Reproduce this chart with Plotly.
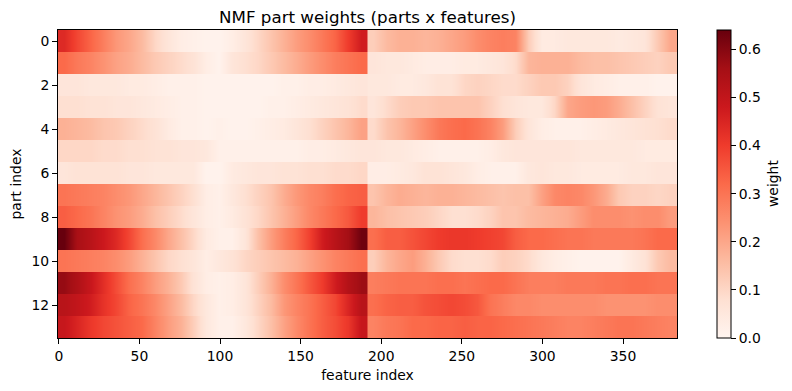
import plotly.graph_objects as go

title_text = "NMF part weights (parts x features)"
x_title = "feature index"
y_title = "part index"
colorbar_title = "weight"
x_ticks = [0, 50, 100, 150, 200, 250, 300, 350]
y_ticks = [0, 2, 4, 6, 8, 10, 12]
color_ticks = [0.0, 0.1, 0.2, 0.3, 0.4, 0.5, 0.6]
left_features = [i * 8 + 3.5 for i in range(24)]
right_features = [i * 8 + 195.5 for i in range(24)]

part_0 = [.44,.38,.33,.28,.23,.20,.16,.10,.06,.03,.02,.01,.01,.03,.06,.10,.14,.18,.22,.25,.29,.33,.40,.47,
          .12,.16,.18,.18,.17,.18,.20,.22,.25,.27,.28,.27,.12,.04,.04,.05,.05,.05,.05,.04,.05,.06,.13,.20]
part_1 = [.32,.29,.27,.24,.21,.19,.16,.13,.11,.09,.07,.03,.01,.06,.08,.10,.13,.16,.19,.22,.25,.28,.30,.32,
          .06,.05,.05,.04,.03,.03,.03,.04,.04,.05,.06,.09,.17,.18,.18,.18,.16,.15,.15,.14,.13,.12,.11,.13]
part_2 = [.06,.06,.05,.05,.05,.04,.04,.03,.02,.02,.02,.01,.01,.01,.01,.01,.01,.02,.02,.03,.03,.04,.05,.06,
          .05,.05,.04,.04,.05,.07,.07,.10,.11,.10,.09,.09,.11,.13,.13,.11,.06,.04,.03,.02,.02,.02,.01,.01]
part_3 = [.08,.08,.07,.07,.06,.06,.05,.04,.03,.02,.02,.01,.01,.01,.01,.01,.02,.02,.03,.04,.05,.06,.07,.09,
          .06,.09,.12,.13,.13,.14,.14,.14,.14,.11,.08,.06,.05,.05,.10,.20,.22,.23,.22,.19,.15,.11,.07,.06]
part_4 = [.18,.17,.16,.14,.13,.11,.09,.07,.04,.02,.02,.01,.02,.01,.01,.02,.03,.04,.06,.08,.11,.14,.17,.21,
          .09,.14,.17,.21,.25,.29,.31,.32,.30,.27,.22,.12,.06,.03,.02,.02,.02,.03,.04,.05,.06,.07,.08,.09]
part_5 = [.10,.10,.10,.09,.09,.08,.08,.07,.07,.06,.06,.05,.02,.02,.02,.02,.02,.02,.02,.03,.03,.04,.05,.06,
          .06,.05,.05,.04,.03,.02,.02,.02,.02,.03,.05,.06,.06,.06,.06,.06,.05,.05,.05,.05,.05,.04,.04,.04]
part_6 = [.06,.07,.07,.07,.07,.06,.06,.05,.05,.05,.05,.01,.01,.04,.05,.06,.06,.07,.07,.08,.08,.09,.09,.10,
          .03,.03,.04,.05,.07,.07,.06,.05,.03,.02,.02,.02,.05,.06,.05,.05,.04,.04,.04,.04,.05,.05,.06,.06]
part_7 = [.30,.29,.28,.27,.25,.23,.20,.17,.14,.11,.08,.03,.02,.05,.08,.11,.14,.19,.23,.26,.28,.31,.33,.34,
          .14,.17,.19,.18,.17,.18,.18,.17,.16,.15,.14,.15,.15,.21,.26,.27,.26,.23,.19,.13,.11,.11,.10,.11]
part_8 = [.34,.32,.30,.27,.24,.22,.19,.15,.12,.09,.06,.03,.02,.04,.07,.10,.14,.18,.22,.26,.29,.32,.35,.40,
          .17,.15,.14,.13,.12,.10,.08,.08,.09,.11,.14,.14,.16,.17,.18,.19,.22,.25,.25,.25,.24,.25,.25,.22]
part_9 = [.64,.55,.52,.48,.44,.38,.31,.26,.20,.15,.10,.04,.02,.02,.06,.15,.22,.28,.33,.39,.47,.52,.56,.63,
          .31,.34,.34,.36,.38,.40,.41,.41,.40,.39,.38,.34,.32,.32,.31,.30,.30,.29,.29,.29,.29,.30,.32,.32]
part_10 = [.30,.29,.28,.27,.25,.22,.18,.14,.10,.08,.06,.03,.05,.07,.10,.12,.14,.16,.18,.21,.24,.27,.29,.31,
           .12,.17,.20,.22,.18,.13,.09,.08,.08,.09,.12,.11,.09,.05,.03,.02,.01,.01,.01,.01,.04,.07,.13,.16]
part_11 = [.58,.54,.49,.43,.37,.31,.27,.22,.18,.13,.07,.03,.02,.03,.06,.12,.18,.25,.30,.35,.40,.47,.53,.57,
           .28,.29,.30,.30,.30,.31,.31,.30,.31,.32,.32,.30,.28,.28,.28,.29,.29,.29,.30,.30,.31,.31,.30,.30]
part_12 = [.52,.50,.47,.42,.38,.33,.30,.26,.21,.16,.10,.05,.02,.03,.06,.11,.16,.23,.27,.30,.34,.38,.45,.52,
           .31,.33,.34,.34,.36,.37,.38,.37,.35,.30,.28,.26,.26,.25,.25,.25,.25,.25,.24,.24,.24,.24,.25,.25]
part_13 = [.49,.45,.41,.38,.36,.34,.32,.27,.22,.18,.12,.05,.02,.02,.05,.10,.15,.21,.26,.30,.34,.37,.41,.49,
           .27,.29,.30,.32,.32,.33,.33,.34,.33,.33,.32,.31,.30,.29,.28,.27,.27,.28,.29,.30,.30,.29,.28,.27]

weights = [part_0, part_1, part_2, part_3, part_4, part_5, part_6,
           part_7, part_8, part_9, part_10, part_11, part_12, part_13]

reds = [[0.0, "#fff5f0"], [0.125, "#fee0d2"], [0.25, "#fcbba1"], [0.375, "#fc9272"],
        [0.5, "#fb6a4a"], [0.625, "#ef3b2c"], [0.75, "#cb181d"], [0.875, "#a50f15"], [1.0, "#67000d"]]

FONT = "DejaVu Sans"
FS = 13.9
L, R, T, B = 58, 677, 30, 338
W, H = 792, 391

fig = go.Figure()
for part, row in enumerate(weights):
    # each part is one image row, smoothed along the feature axis by plotly itself
    for xs, vals in ((left_features, row[:24]), (right_features, row[24:])):
        fig.add_trace(go.Heatmap(
            z=[vals, vals], x=xs, y=[part - 0.25, part + 0.25],
            coloraxis="coloraxis", zsmooth="best",
            hovertemplate="feature %{x}<br>part " + str(part) + "<br>weight %{z}<extra></extra>",
        ))

axis_common = dict(showgrid=False, zeroline=False, showline=True, linecolor="#000", linewidth=1,
                   mirror=True, ticks="outside", ticklen=5, tickwidth=1, tickcolor="#000",
                   tickfont=dict(size=FS, color="#000", family=FONT), tickmode="array")
fig.update_layout(
    width=W, height=H, autosize=False,
    margin=dict(l=L, r=W - R, t=T, b=H - B, pad=0),
    paper_bgcolor="#fff", plot_bgcolor="#fff",
    font=dict(family=FONT, size=FS, color="#000"),
    title=dict(text=title_text, x=(L + R) / 2 / W, xanchor="center", y=1 - 17 / H, yanchor="middle",
               font=dict(size=16.7, color="#000", family=FONT)),
    coloraxis=dict(
        colorscale=reds, cmin=0, cmax=0.64,
        colorbar=dict(
            thickness=14, thicknessmode="pixels", len=1, lenmode="fraction", y=0, yanchor="bottom",
            x=(717 - L) / (R - L), xanchor="left", xpad=0, ypad=0,
            outlinewidth=1, outlinecolor="#000",
            tickmode="array", tickvals=color_ticks, ticktext=[f"{t:.1f}" for t in color_ticks],
            ticks="outside", ticklen=5, tickwidth=1, tickcolor="#000",
            tickfont=dict(size=FS, color="#000", family=FONT),
        ),
    ),
    annotations=[dict(text=colorbar_title, textangle=-90, showarrow=False,
                      xref="paper", yref="paper", x=(773 - L) / (R - L), y=0.5,
                      xanchor="center", yanchor="middle",
                      font=dict(size=FS, color="#000", family=FONT))],
    xaxis=dict(range=[-0.5, 383.5], tickvals=x_ticks,
               title=dict(text=x_title, standoff=7, font=dict(size=FS, color="#000", family=FONT)), **axis_common),
    yaxis=dict(range=[13.5, -0.5], tickvals=y_ticks,
               title=dict(text=y_title, standoff=6, font=dict(size=FS, color="#000", family=FONT)), **axis_common),
)
fig.write_html("out.html", config=dict(displayModeBar=False),
               post_script="document.body.style.margin='0';")
